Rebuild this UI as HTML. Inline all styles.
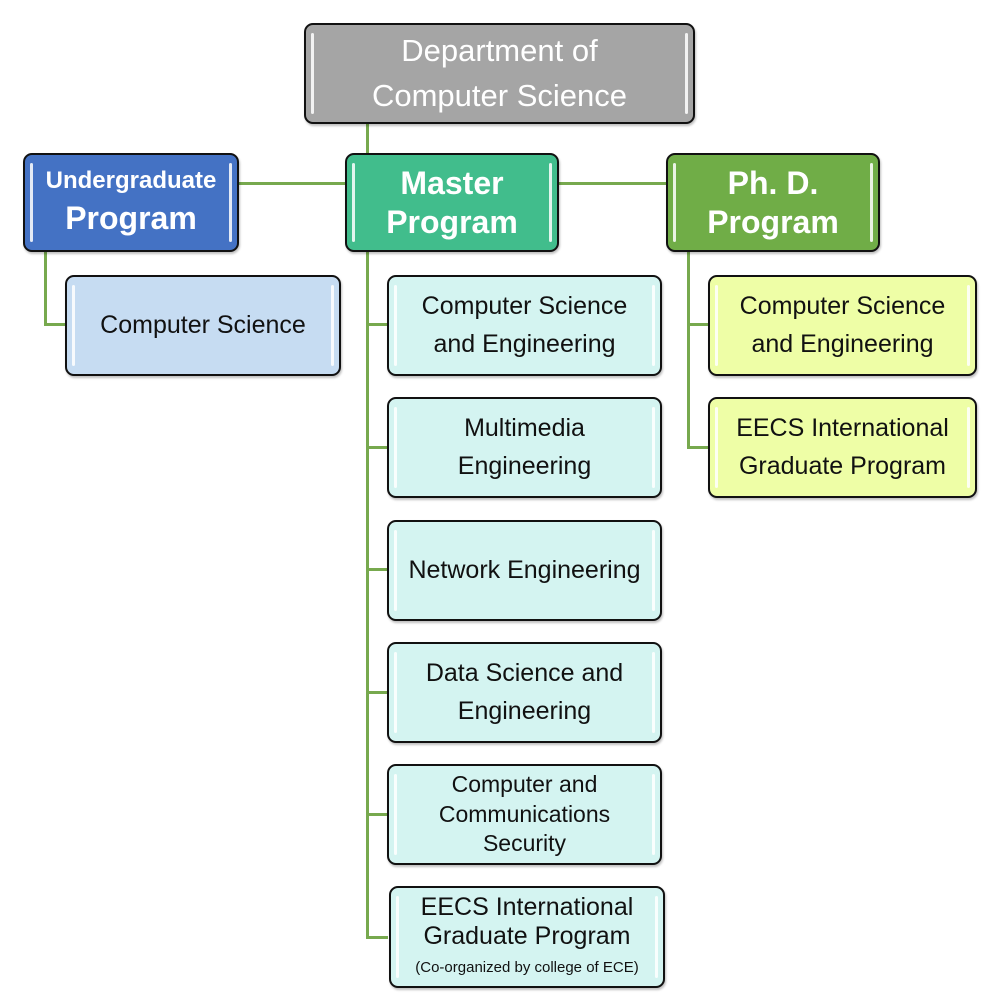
<!DOCTYPE html>
<html><head><meta charset="utf-8"><style>
body{margin:0;width:1001px;height:1000px;background:#fff;position:relative;overflow:hidden;font-family:"Liberation Sans",sans-serif}
.b{position:absolute;box-sizing:border-box;border:2px solid #111;border-radius:9px;display:flex;align-items:center;justify-content:center;text-align:center;line-height:1.3;box-shadow:1px 2px 2px rgba(0,0,0,.25)}
.b::before,.b::after{content:"";position:absolute;top:8px;bottom:8px;width:3px;background:rgba(255,255,255,.85);border-radius:2px}
.b::before{left:5px}.b::after{right:5px}
.l{position:absolute;background:#77a94e}
.c{font-size:25px;color:#111}
.top{color:#fff;font-weight:bold}
</style></head><body>
<div class="l" style="left:366px;top:123px;width:3px;height:32px"></div>
<div class="l" style="left:238px;top:182px;width:108px;height:3px"></div>
<div class="l" style="left:558px;top:182px;width:109px;height:3px"></div>
<div class="l" style="left:44px;top:251px;width:3px;height:75px"></div>
<div class="l" style="left:44px;top:323px;width:22px;height:3px"></div>
<div class="l" style="left:366px;top:251px;width:3px;height:688px"></div>
<div class="l" style="left:366px;top:323px;width:22px;height:3px"></div>
<div class="l" style="left:366px;top:446px;width:22px;height:3px"></div>
<div class="l" style="left:366px;top:568px;width:22px;height:3px"></div>
<div class="l" style="left:366px;top:691px;width:22px;height:3px"></div>
<div class="l" style="left:366px;top:813px;width:22px;height:3px"></div>
<div class="l" style="left:366px;top:936px;width:22px;height:3px"></div>
<div class="l" style="left:687px;top:251px;width:3px;height:198px"></div>
<div class="l" style="left:687px;top:323px;width:22px;height:3px"></div>
<div class="l" style="left:687px;top:446px;width:22px;height:3px"></div>

<div class="b" style="left:304px;top:23px;width:391px;height:101px;background:#a5a5a5;color:#fff;font-size:31px;line-height:1.45">Department of<br>Computer Science</div>
<div class="b top" style="left:23px;top:153px;width:216px;height:99px;background:#4472c4;line-height:1.35"><div><span style="font-size:24px">Undergraduate</span><br><span style="font-size:32px">Program</span></div></div>
<div class="b top" style="left:345px;top:153px;width:214px;height:99px;background:#41bd8c;font-size:32px;line-height:1.2">Master<br>Program</div>
<div class="b top" style="left:666px;top:153px;width:214px;height:99px;background:#70ad47;font-size:32px;line-height:1.2">Ph. D.<br>Program</div>

<div class="b c" style="left:65px;top:275px;width:276px;height:101px;background:#c6dcf2">Computer Science</div>

<div class="b c" style="left:387px;top:275px;width:275px;height:101px;background:#d4f4f1;line-height:1.5">Computer Science<br>and Engineering</div>
<div class="b c" style="left:387px;top:397px;width:275px;height:101px;background:#d4f4f1;line-height:1.5">Multimedia<br>Engineering</div>
<div class="b c" style="left:387px;top:520px;width:275px;height:101px;background:#d4f4f1">Network Engineering</div>
<div class="b c" style="left:387px;top:642px;width:275px;height:101px;background:#d4f4f1;line-height:1.5">Data Science and<br>Engineering</div>
<div class="b c" style="left:387px;top:764px;width:275px;height:101px;background:#d4f4f1;font-size:23px;line-height:1.3">Computer and<br>Communications<br>Security</div>
<div class="b c" style="left:389px;top:886px;width:276px;height:102px;background:#d4f4f1;line-height:1.15"><div>EECS International<br>Graduate Program<br><span style="font-size:15px;line-height:1.8">(Co-organized by college of ECE)</span></div></div>

<div class="b c" style="left:708px;top:275px;width:269px;height:101px;background:#eefea6;line-height:1.5">Computer Science<br>and Engineering</div>
<div class="b c" style="left:708px;top:397px;width:269px;height:101px;background:#eefea6;line-height:1.5">EECS International<br>Graduate Program</div>
</body></html>
